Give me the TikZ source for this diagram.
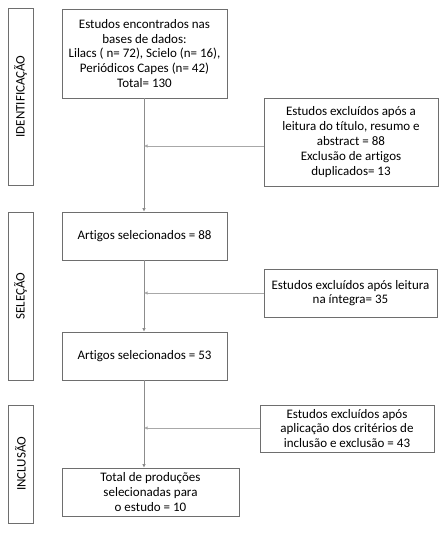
\documentclass[tikz,border=0pt]{standalone}
\usepackage{fontspec}
\setmainfont[Ligatures=NoCommon]{Carlito}
\usetikzlibrary{arrows.meta}
\definecolor{boxline}{HTML}{6E6E6E}
\definecolor{flowline}{HTML}{8C8C8C}
\definecolor{sideline}{HTML}{A8A8A8}
\begin{document}
\begin{tikzpicture}[x=1pt,y=-1pt,
  every node/.style={font=\fontsize{13}{14.8}\selectfont, text=black},
  fbox/.style={draw=boxline, line width=0.8pt, inner sep=0pt, align=center},
  sidebox/.style={draw=boxline, line width=0.8pt, inner sep=0pt},
  flow/.style={draw=flowline, line width=0.8pt, -{Latex[length=3.5pt,width=3.5pt]}},
  side/.style={draw=sideline, line width=0.8pt, -{Latex[length=3.5pt,width=3.5pt]}}
]
\useasboundingbox (0,0) rectangle (444,533);
\fill[white] (0,0) rectangle (444,533);

% side boxes
\node[sidebox, minimum width=25pt, minimum height=177pt] (s1) at (20.5,96.5) {};
\node[rotate=90] (s1t) at (s1.center) {IDENTIFICAÇÃO};
\node[sidebox, minimum width=25pt, minimum height=168pt] (s2) at (20.5,296) {};
\node[rotate=90] (s2t) at (s2.center) {SELEÇÃO};
\node[sidebox, minimum width=25pt, minimum height=118pt] (s3) at (20.5,464) {};
\node[rotate=90] (s3t) at (s3.center) {INCLUSÃO};

% main boxes
\node[fbox, minimum width=165pt, minimum height=89pt] (b1) at (144.5,53.5)
  {Estudos encontrados nas\\bases de dados:\\Lilacs ( n= 72), Scielo (n= 16),\\Periódicos Capes (n= 42)\\Total= 130};
\node[fbox, minimum width=165pt, minimum height=48pt] (b2) at (144.5,236)
  {Artigos selecionados = 88};
\node[fbox, minimum width=165pt, minimum height=48pt] (b3) at (144.5,356)
  {Artigos selecionados = 53};
\node[fbox, minimum width=177pt, minimum height=48pt] (b4) at (150.5,492)
  {Total de produções\\selecionadas para\\o estudo = 10};

% exclusion boxes
\node[fbox, minimum width=174pt, minimum height=88pt] (e1) at (351,142)
  {Estudos excluídos após a\\leitura do título, resumo e\\abstract = 88\\Exclusão de artigos\\duplicados= 13};
\node[fbox, minimum width=173pt, minimum height=48pt] (e2) at (350.5,293)
  {Estudos excluídos após leitura\\na íntegra= 35};
\node[fbox, minimum width=174pt, minimum height=47pt] (e3) at (347,428.5)
  {Estudos excluídos após\\aplicação dos critérios de\\inclusão e exclusão = 43};

% connectors
\coordinate (j1) at (144,146);
\coordinate (j2) at (144,293);
\coordinate (j3) at (144,428);
\draw[flow] (b1.south -| j1) -- (b2.north -| j1);
\draw[flow] (b2.south -| j2) -- (b3.north -| j2);
\draw[flow] (b3.south -| j3) -- (b4.north -| j3);
\draw[side] (e1.west |- j1) -- (j1);
\draw[side] (e2.west |- j2) -- (j2);
\draw[side] (e3.west |- j3) -- (j3);
\end{tikzpicture}
\end{document}
